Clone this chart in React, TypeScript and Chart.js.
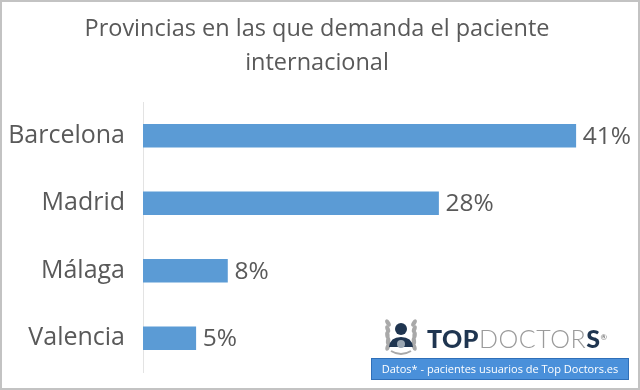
import React, { useEffect, useRef } from "react";
import { Chart, registerables } from "chart.js";

Chart.register(...registerables);

const titleLines = ["Provincias en las que demanda el paciente", "internacional"];
const categories = ["Barcelona", "Madrid", "Málaga", "Valencia"];
const values = [41, 28, 8, 5];
const valueLabels = ["41%", "28%", "8%", "5%"];
const footerText = "Datos* - pacientes usuarios de Top Doctors.es";

const FONT = "'Open Sans', 'DejaVu Sans', sans-serif";
const TEXT = "#595959";
const BAR = "#5b9bd5";

const titlePlugin = {
  id: "titleLines",
  afterDraw(chart: any) {
    const ctx = chart.ctx;
    ctx.save();
    ctx.font = `23.5px ${FONT}`;
    ctx.fillStyle = TEXT;
    ctx.textAlign = "center";
    ctx.textBaseline = "middle";
    titleLines.forEach((t, i) => ctx.fillText(t, 317, 29 + i * 34));
    ctx.restore();
  },
};

const valuePlugin = {
  id: "valueLabels",
  afterDatasetsDraw(chart: any) {
    const ctx = chart.ctx;
    const meta = chart.getDatasetMeta(0);
    ctx.save();
    ctx.font = `24.5px ${FONT}`;
    ctx.fillStyle = TEXT;
    ctx.textAlign = "left";
    ctx.textBaseline = "middle";
    meta.data.forEach((bar: any, i: number) => {
      ctx.fillText(valueLabels[i], bar.x + 7, bar.y + 1);
    });
    ctx.restore();
  },
};

function Logo() {
  return (
    <div style={{ position: "absolute", left: 381, top: 315, width: 240, height: 44 }}>
      <svg width="40" height="42" viewBox="0 0 40 42" style={{ position: "absolute", left: 0, top: 0 }}>
        {[0, 1, 2, 3, 4].map((k) => (
          <ellipse key={"l" + k} cx={7 - k * 0.3 + (k > 2 ? 1 : 0)} cy={8 + k * 6} rx="2.2" ry="4" fill="#a9a9a9"
            transform={`rotate(${-30 + k * 12} ${7} ${8 + k * 6})`} />
        ))}
        {[0, 1, 2, 3, 4].map((k) => (
          <ellipse key={"r" + k} cx={33 + k * 0.3 - (k > 2 ? 1 : 0)} cy={8 + k * 6} rx="2.2" ry="4" fill="#a9a9a9"
            transform={`rotate(${30 - k * 12} ${33} ${8 + k * 6})`} />
        ))}
        <circle cx="20" cy="14" r="6" fill="#1f3550" />
        <path d="M8 32 Q9 22 20 22 Q31 22 32 32 Z" fill="#1f3550" />
        <circle cx="20" cy="29" r="4" fill="#9aa6b2" />
        <path d="M10 36 Q20 42 30 36" stroke="#a9a9a9" strokeWidth="2" fill="none" />
      </svg>
      <div style={{ position: "absolute", left: 46, top: 8, fontFamily: "Lato, 'Open Sans', sans-serif", fontSize: 25, lineHeight: "30px", whiteSpace: "nowrap", letterSpacing: 0.5 }}>
        <span style={{ fontWeight: 900, color: "#1f3550" }}>TOP</span>
        <span style={{ fontWeight: 300, color: "#9b9b9b" }}>DOCTOR</span>
        <span style={{ fontWeight: 900, color: "#1f3550" }}>S</span>
        <sup style={{ fontSize: 8, color: "#666", fontWeight: 400, verticalAlign: "top", position: "relative", top: -1 }}>®</sup>
      </div>
    </div>
  );
}

export default function App() {
  const ref = useRef<HTMLCanvasElement>(null);
  useEffect(() => {
    if (!ref.current) return;
    const chart = new Chart(ref.current, {
      type: "bar",
      data: {
        labels: categories,
        datasets: [
          {
            data: values,
            backgroundColor: BAR,
            barThickness: 23,
          },
        ],
      },
      options: {
        indexAxis: "y",
        responsive: false,
        animation: false,
        layout: { padding: { left: 8, right: 22, top: 102, bottom: 18 } },
        plugins: { legend: { display: false }, tooltip: { enabled: false }, title: { display: false } },
        scales: {
          x: { display: false, min: 0, max: 45 },
          y: {
            afterFit: (s: any) => {
              s.width = 135;
              s.paddingTop = 0;
              s.paddingBottom = 0;
            },
            grid: { display: false, drawTicks: false },
            border: { display: true, color: "#e3e3e3", width: 1 },
            ticks: { color: TEXT, font: { family: FONT, size: 25 }, padding: 18 },
          },
        },
      },
      plugins: [titlePlugin, valuePlugin],
    });
    return () => chart.destroy();
  }, []);

  return (
    <div style={{ position: "absolute", left: 0, top: 0, width: 640, height: 390, background: "#fff", overflow: "hidden" }}>
      <canvas ref={ref} width={640} height={390} style={{ position: "absolute", left: 0, top: 0 }} />
      <Logo />
      <div
        style={{
          position: "absolute",
          left: 371,
          top: 358,
          width: 256,
          height: 20,
          background: "#4a90da",
          border: "1px solid #2f6fb8",
          color: "#fff",
          fontFamily: FONT,
          fontSize: 11,
          lineHeight: "20px",
          textAlign: "center",
          whiteSpace: "nowrap",
          overflow: "hidden",
        }}
      >
        {footerText}
      </div>
      <div style={{ position: "absolute", left: 0, top: 0, width: 640, height: 390, boxSizing: "border-box", border: "2px solid #c3c3c3", pointerEvents: "none" }} />
    </div>
  );
}
